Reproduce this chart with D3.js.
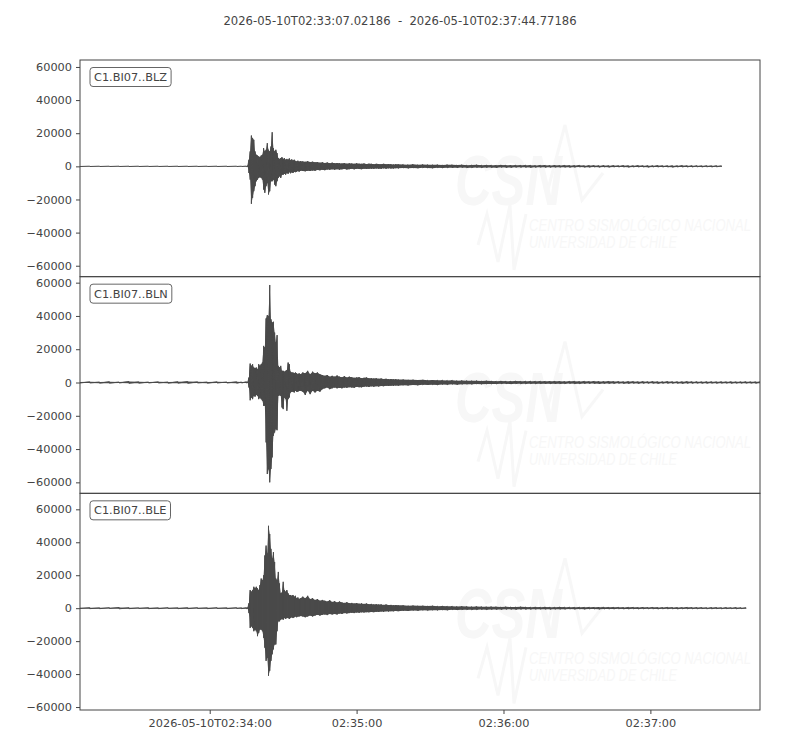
<!DOCTYPE html>
<html>
<head>
<meta charset="utf-8">
<script src="https://cdn.jsdelivr.net/npm/d3@7"></script>
<style>
  body { margin: 0; background: #fff; }
  svg text { font-family: "DejaVu Sans", sans-serif; fill: #444; }
</style>
</head>
<body>
<div id="chart"></div>
<script>
// trace window
const startLabel = "2026-05-10T02:33:07.02186";
const endLabel = "2026-05-10T02:37:44.77186";
const startClock = "02:33:07.02186";
const duration = 277.75; // seconds

const channels = ["C1.BI07..BLZ", "C1.BI07..BLN", "C1.BI07..BLE"];
const yTicks = [60000, 40000, 20000, 0, -20000, -40000, -60000];
const yDomains = [[-66600, 64200], [-66600, 63600], [-61800, 69700]];
const xTickClock = ["02:34:00", "02:35:00", "02:36:00", "02:37:00"];
const xTickLabels = ["2026-05-10T02:34:00", "02:35:00", "02:36:00", "02:37:00"];

const secs = [
  0, 4, 8, 12, 16, 20, 24, 28, 32, 36, 40, 44, 48, 52, 56, 60, 64, 66, 68,
  68.5, 69, 69.5, 70, 70.5, 71, 71.5, 72, 72.5, 73,
  73.5, 74, 74.5, 75, 75.5, 76, 76.5, 77, 77.5, 78,
  78.5, 79, 79.5, 80, 80.5, 81, 81.5, 82, 82.5, 83,
  83.5, 84, 84.5, 85, 85.5, 86, 86.5, 87, 87.5, 88,
  88.5, 89, 89.5, 90,
  91, 92, 93, 94, 95, 96, 97, 98, 99, 100,
  101, 102, 103, 104, 105, 106, 107, 108, 109, 110,
  111, 112, 113, 114, 115, 116, 117, 118, 119, 120,
  121, 122, 123, 124, 125, 126, 127, 128, 129, 130,
  132, 134, 136, 138, 140, 142, 144, 146, 148, 150,
  152, 154, 156, 158, 160, 162, 164, 166, 168, 170,
  172, 174, 176, 178, 180, 182, 184, 186, 188, 190,
  192, 194, 196, 198, 200, 202, 204, 206, 208, 210,
  212, 214, 216, 218, 220, 222, 224, 226, 228, 230,
  232, 234, 236, 238, 240, 242, 244, 246, 248, 250,
  252, 254, 256, 258, 260, 262, 264, 266, 268, 270,
  272, 274, 276,
  277.7
];

// BLZ (vertical)
const blzHi = [
  100, 100, 100, 100, 100, 100, 100, 100, 100, 100, 100, 100, 100, 100, 100, 100, 100, 100, 150,
  300, 4000, 9000, 18600, 17000, 16000, 9000, 7000, 6500, 6000,
  5500, 6500, 7000, 11000, 9000, 10000, 14000, 10000, 9000, 12000,
  20600, 11000, 9000, 10000, 8000, 5000, 4500, 5000, 5500, 4500,
  5000, 4000, 4500, 4000, 4800, 3800, 4200, 3500, 4000, 3300,
  3000, 3400, 2800, 3200,
  3000, 2700, 3100, 2600, 2800, 2400, 2600, 2200, 2400, 2000,
  2300, 1900, 2200, 1800, 2000, 1900, 1700, 2000, 1600, 1800,
  1700, 1500, 1800, 1600, 1500, 1700, 1400, 1600, 1500, 1300,
  1500, 1400, 1300, 1500, 1200, 1400, 1300, 1100, 1300, 1200,
  1100, 1000, 1200, 900, 1100, 1000, 900, 1000, 800, 1000,
  900, 800, 900, 700, 800, 900, 700, 800, 700, 600,
  800, 700, 600, 700, 600, 700, 600, 500, 600, 600,
  500, 600, 500, 600, 500, 500, 600, 400, 500, 500,
  400, 500, 400, 500, 400, 500, 400, 400, 500, 400,
  400, 400, 500, 400, 400, 400, 400, 500, 400, 400,
  400, 300, 400, 300, 400, 300, null, null, null, null,
  null, null, null,
  null
];
const blzLo = [
  -100, -100, -100, -100, -100, -100, -100, -100, -100, -100, -100, -100, -100, -100, -100, -100, -100, -100, -150,
  -300, -4000, -8000, -22600, -19000, -15000, -12000, -9000, -8000, -7000,
  -6500, -7000, -8000, -14000, -16000, -12000, -10000, -17000, -15000, -9000,
  -9000, -8000, -11000, -12000, -9000, -7000, -6000, -7000, -5000, -5000,
  -4500, -5000, -4000, -4500, -3500, -4200, -3600, -4000, -3200, -3500,
  -3200, -2800, -3200, -2700,
  -2800, -3000, -2600, -2800, -2500, -2700, -2200, -2400, -2000, -2300,
  -1900, -2100, -1800, -2000, -1700, -2000, -1800, -1600, -1900, -1700,
  -1500, -1800, -1500, -1600, -1700, -1400, -1600, -1500, -1400, -1500,
  -1300, -1400, -1500, -1200, -1400, -1200, -1300, -1300, -1100, -1200,
  -1000, -1200, -1000, -1100, -900, -1000, -1100, -800, -1000, -900,
  -800, -900, -700, -900, -800, -700, -800, -700, -700, -800,
  -600, -700, -700, -600, -600, -600, -700, -600, -500, -600,
  -600, -500, -500, -500, -600, -500, -400, -500, -500, -400,
  -500, -400, -500, -400, -400, -400, -500, -400, -400, -400,
  -500, -400, -400, -400, -400, -500, -400, -400, -400, -400,
  -300, -400, -300, -400, -300, -300, null, null, null, null,
  null, null, null,
  null
];

// BLN (north)
const blnHi = [
  300, 400, 300, 500, 300, 600, 400, 300, 400, 300, 500, 600, 400, 300, 400, 300, 400, 300, 400,
  300, 3000, 11400, 10000, 11000, 9000, 8500, 9000, 8000, 11000,
  10000, 11000, 12000, 22000, 21000, 38500, 40500, 40000, 58600, 38000,
  36000, 36500, 30000, 24000, 28500, 10000, 9000, 10000, 7000, 7000,
  6500, 7000, 7500, 12000, 11000, 6500, 6000, 6000, 5500, 6000,
  5500, 5000, 5500, 5000,
  6000, 5500, 7000, 5000, 6500, 5500, 6000, 5000, 4500, 4000,
  4500, 3500, 4000, 3500, 4200, 3500, 3200, 3800, 3000, 3500,
  3200, 2800, 3000, 3200, 2600, 2800, 3000, 2500, 2600, 2400,
  2500, 2200, 2400, 2100, 2200, 2000, 2100, 1900, 2000, 1800,
  1800, 1600, 1700, 1500, 1600, 1400, 1500, 1300, 1400, 1200,
  1300, 1100, 1200, 1100, 1000, 1100, 900, 1000, 900, 800,
  900, 800, 800, 900, 700, 800, 800, 700, 800, 700,
  700, 800, 700, 600, 700, 700, 600, 700, 600, 700,
  600, 600, 700, 600, 600, 500, 600, 600, 500, 600,
  500, 600, 500, 500, 600, 500, 500, 500, 600, 500,
  500, 400, 500, 500, 400, 500, 400, 500, 400, 400,
  500, 400, 400,
  400
];
const blnLo = [
  -300, -300, -400, -400, -300, -500, -400, -300, -300, -400, -400, -500, -300, -400, -300, -300, -400, -300, -300,
  -300, -3000, -10700, -9000, -10000, -8000, -8500, -7500, -8000, -10000,
  -9000, -10000, -11000, -14000, -14000, -36000, -55000, -52000, -60000, -52000,
  -45000, -32000, -30000, -28000, -28700, -8000, -7700, -8000, -15000, -16000,
  -9000, -10000, -17000, -10000, -9000, -6000, -5500, -5500, -6000, -5000,
  -5500, -5500, -5000, -5000,
  -5500, -7500, -5000, -7000, -5000, -6000, -5000, -5500, -4000, -3500,
  -3000, -4000, -3500, -3000, -3500, -3200, -3500, -3000, -3200, -2800,
  -3000, -3200, -2600, -2800, -2900, -2500, -2400, -2700, -2300, -2500,
  -2200, -2400, -2100, -2200, -2000, -2100, -1900, -2000, -1800, -1900,
  -1700, -1800, -1500, -1700, -1400, -1500, -1300, -1500, -1200, -1400,
  -1100, -1300, -1100, -1000, -1100, -900, -1000, -900, -900, -900,
  -800, -800, -900, -700, -800, -800, -700, -800, -700, -700,
  -800, -700, -700, -700, -600, -700, -700, -600, -600, -600,
  -700, -600, -600, -600, -500, -600, -600, -500, -600, -500,
  -500, -500, -600, -500, -500, -500, -500, -600, -500, -500,
  -400, -500, -500, -400, -500, -400, -400, -500, -400, -400,
  -400, -400, -500,
  -400
];

// BLE (east)
const bleHi = [
  200, 300, 200, 300, 400, 300, 200, 300, 200, 300, 200, 300, 300, 200, 300, 200, 300, 200, 300,
  300, 3000, 11000, 10000, 11000, 13000, 12000, 13000, 12000, 11000,
  14000, 18000, 17000, 20000, 32000, 38000, 33000, 50000, 45000, 36000,
  30000, 34000, 28000, 18000, 17000, 22000, 15000, 9000, 9500, 16000,
  11000, 10000, 11000, 9000, 8000, 8000, 7500, 8000, 7000, 7500,
  6000, 6500, 5500, 6000,
  7000, 6000, 7500, 5500, 6000, 5000, 5500, 4500, 5000, 4500,
  4000, 4800, 3800, 4200, 3500, 4000, 3500, 3200, 3600, 3000,
  3200, 2800, 3100, 2700, 2900, 2600, 2800, 2400, 2600, 2300,
  2400, 2200, 2300, 2000, 2200, 1900, 2000, 1800, 1900, 1700,
  1700, 1500, 1600, 1400, 1500, 1300, 1400, 1200, 1300, 1100,
  1200, 1000, 1100, 1000, 900, 1000, 900, 800, 900, 800,
  700, 800, 700, 700, 800, 700, 600, 700, 600, 700,
  600, 600, 700, 600, 600, 500, 600, 500, 600, 500,
  500, 600, 500, 500, 500, 400, 500, 500, 400, 500,
  400, 500, 400, 400, 500, 400, 400, 400, 500, 400,
  400, 400, 300, 400, 400, 300, 400, 300, 400, 300,
  300, null, null,
  null
];
const bleLo = [
  -200, -300, -300, -200, -400, -300, -200, -300, -300, -200, -300, -300, -200, -300, -200, -300, -200, -300, -300,
  -300, -3000, -12000, -11000, -12000, -14000, -13000, -14000, -17000, -15000,
  -13000, -13000, -14000, -18000, -24000, -32000, -30000, -41000, -38000, -32000,
  -28000, -25000, -22000, -22000, -14000, -8000, -8000, -7000, -6500, -7000,
  -6000, -6500, -6000, -6000, -6500, -6000, -5500, -6000, -5500, -5000,
  -5500, -5000, -5000, -4800,
  -5000, -5500, -5000, -4500, -5000, -4500, -4000, -4500, -4000, -3800,
  -4200, -3500, -3800, -3500, -3800, -3200, -3500, -3000, -3200, -3000,
  -2800, -3000, -2600, -2800, -2500, -2600, -2400, -2500, -2300, -2400,
  -2200, -2300, -2000, -2200, -1900, -2000, -1800, -1900, -1700, -1800,
  -1600, -1700, -1400, -1600, -1300, -1400, -1200, -1300, -1100, -1200,
  -1000, -1100, -1000, -900, -1000, -900, -800, -900, -800, -800,
  -800, -700, -700, -800, -700, -700, -700, -600, -600, -600,
  -700, -600, -600, -600, -500, -600, -500, -600, -500, -500,
  -600, -500, -500, -500, -400, -500, -500, -400, -500, -400,
  -400, -400, -500, -400, -400, -400, -500, -400, -400, -400,
  -400, -300, -400, -400, -300, -400, -300, -300, -400, -300,
  -300, null, null,
  null
];

const traceHi = [blzHi, blnHi, bleHi];
const traceLo = [blzLo, blnLo, bleLo];

const W = 800, H = 750;
const plotLeft = 80, plotRight = 760, plotTop = 60, plotBottom = 710;
const panelH = (plotBottom - plotTop) / channels.length;
const ink = "#444";
const waveColor = "#4a4a4a";
const wmColor = "#f7f7f7";

const svg = d3.select("#chart").append("svg")
  .attr("width", W).attr("height", H)
  .attr("viewBox", `0 0 ${W} ${H}`);

svg.append("text")
  .attr("x", 400).attr("y", 25)
  .attr("text-anchor", "middle")
  .attr("xml:space", "preserve")
  .style("white-space", "pre")
  .style("font-size", "11.6px")
  .text(`${startLabel}  -  ${endLabel}`);

const x = d3.scaleLinear().domain([0, duration]).range([plotLeft, plotRight]);

const clockSecs = s => {
  const [h, m, sec] = s.split(":").map(Number);
  return h * 3600 + m * 60 + sec;
};
const t0 = clockSecs(startClock);

channels.forEach((name, i) => {
  const y0 = plotTop + i * panelH;
  const y = d3.scaleLinear().domain(yDomains[i]).range([y0 + panelH, y0]);
  const g = svg.append("g");

  // faint CSN watermark
  const wm = g.append("g")
    .attr("transform", `translate(0,${y0 - 60})`)
    .attr("stroke", wmColor);
  wm.append("text")
    .attr("x", 455).attr("y", 205)
    .attr("textLength", 107).attr("lengthAdjust", "spacingAndGlyphs")
    .style("font-family", "'Liberation Sans Narrow', sans-serif")
    .style("font-size", "70px").style("font-weight", "bold").style("font-style", "italic")
    .style("fill", wmColor).attr("stroke", "none")
    .text("CSN");
  wm.append("polyline")
    .attr("points", "547,193 565,125 582,200 603,173")
    .attr("fill", "none").attr("stroke-width", 3);
  wm.append("polyline")
    .attr("points", "478,245 487,214 498,262 510,205 514,270 526,214")
    .attr("fill", "none").attr("stroke-width", 3);
  wm.append("text")
    .attr("x", 529).attr("y", 231)
    .attr("textLength", 222).attr("lengthAdjust", "spacingAndGlyphs")
    .style("font-family", "'Liberation Sans Narrow', sans-serif")
    .style("font-size", "16px").style("font-style", "italic")
    .style("fill", wmColor).attr("stroke", "none")
    .text("CENTRO SISMOLÓGICO NACIONAL");
  wm.append("text")
    .attr("x", 529).attr("y", 248)
    .attr("textLength", 148).attr("lengthAdjust", "spacingAndGlyphs")
    .style("font-family", "'Liberation Sans Narrow', sans-serif")
    .style("font-size", "16px").style("font-style", "italic")
    .style("fill", wmColor).attr("stroke", "none")
    .text("UNIVERSIDAD DE CHILE");

  // waveform envelope
  const clipId = `clip${i}`;
  svg.append("clipPath").attr("id", clipId)
    .append("rect").attr("x", plotLeft).attr("y", y0)
    .attr("width", plotRight - plotLeft).attr("height", panelH);

  const rows = secs.map((s, k) => ({ s, hi: traceHi[i][k], lo: traceLo[i][k] }))
    .filter(d => d.hi != null);

  const area = d3.area()
    .x(d => x(d.s))
    .y0(d => y(d.lo))
    .y1(d => y(d.hi));

  const zig = d3.line()
    .x(d => x(d.s))
    .y(d => y(d.v));
  const pts = rows.flatMap(d => [{ s: d.s, v: d.hi }, { s: d.s, v: d.lo }]);

  const wave = g.append("g").attr("clip-path", `url(#${clipId})`);
  wave.append("path").datum(rows)
    .attr("fill", waveColor).attr("d", area);
  wave.append("path").datum(pts)
    .attr("fill", "none").attr("stroke", waveColor)
    .attr("stroke-width", 1).attr("d", zig);

  // y axis
  const ya = g.append("g")
    .attr("transform", `translate(${plotLeft},0)`)
    .call(d3.axisLeft(y).tickValues(yTicks).tickSize(4).tickPadding(4).tickFormat(d3.format("d")));
  ya.select(".domain").remove();
  ya.selectAll("line").attr("stroke", ink);
  ya.selectAll("text").style("font-size", "11.3px").attr("fill", ink)
    .style("font-family", "'DejaVu Sans', sans-serif");

  // frame
  g.append("rect")
    .attr("x", plotLeft).attr("y", y0)
    .attr("width", plotRight - plotLeft).attr("height", panelH)
    .attr("fill", "none").attr("stroke", ink).attr("stroke-width", 1);

  // channel label
  const lab = g.append("g");
  const lt = lab.append("text")
    .attr("x", 94).attr("y", y0 + 21)
    .style("font-size", "11.3px")
    .text(name);
  const tw = lt.node().getComputedTextLength();
  lab.insert("rect", "text")
    .attr("x", 90).attr("y", y0 + 7.5)
    .attr("width", tw + 8).attr("height", 19)
    .attr("rx", 3)
    .attr("fill", "#fff").attr("fill-opacity", 0.85)
    .attr("stroke", "#666").attr("stroke-width", 1);

  if (i === channels.length - 1) {
    const xa = g.append("g")
      .attr("transform", `translate(0,${plotBottom})`)
      .call(d3.axisBottom(x)
        .tickValues(xTickClock.map(c => clockSecs(c) - t0))
        .tickSize(4).tickPadding(5)
        .tickFormat((d, k) => xTickLabels[k]));
    xa.select(".domain").remove();
    xa.selectAll("line").attr("stroke", ink);
    xa.selectAll("text").style("font-size", "11.3px").attr("fill", ink)
      .style("font-family", "'DejaVu Sans', sans-serif");
  }
});
</script>
</body>
</html>
